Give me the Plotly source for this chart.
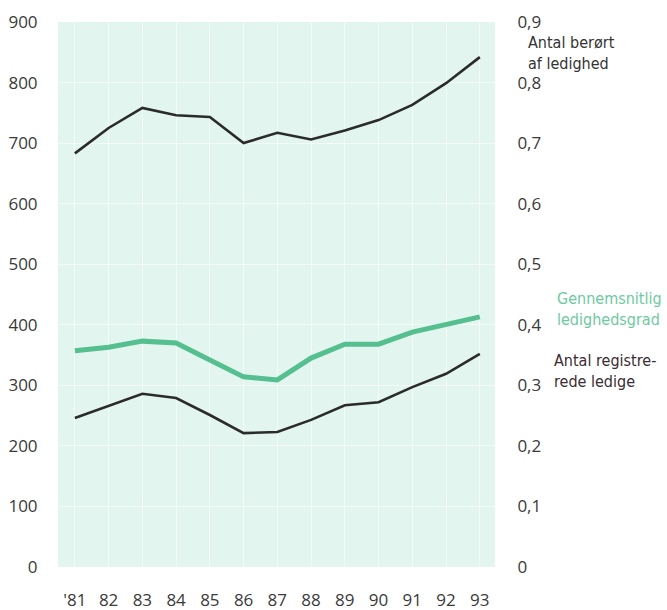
import plotly.graph_objects as go

years = ["'81", "82", "83", "84", "85", "86", "87", "88", "89", "90", "91", "92", "93"]
beroert = [683, 725, 758, 746, 743, 700, 717, 706, 721, 738, 763, 799, 842]
registrerede = [246, 266, 286, 279, 251, 221, 223, 243, 267, 272, 297, 319, 352]
ledighedsgrad = [0.357, 0.363, 0.373, 0.370, 0.342, 0.314, 0.309, 0.345, 0.368, 0.368, 0.388, 0.400, 0.413]

left_ticks = list(range(0, 901, 100))
right_ticks = [i / 10 for i in range(10)]

GREEN = "#55bf90"
GREEN_TXT = "#6ccaa0"
DARK = "#2b2b2b"
TICKFONT = dict(family="Open Sans, Roboto, sans-serif", size=17, color="#3a3a3a")
ANNFONT = "DejaVu Sans Condensed, Liberation Sans Narrow, Roboto, sans-serif"

x = list(range(len(years)))

fig = go.Figure()
fig.add_trace(go.Scatter(x=x, y=beroert, mode="lines", line=dict(color=DARK, width=2.6), yaxis="y"))
fig.add_trace(go.Scatter(x=x, y=registrerede, mode="lines", line=dict(color=DARK, width=2.6), yaxis="y"))
fig.add_trace(go.Scatter(x=x, y=ledighedsgrad, mode="lines", line=dict(color=GREEN, width=5), yaxis="y2"))

fig.update_layout(
    width=667, height=610,
    margin=dict(l=58, r=172, t=22, b=43),
    paper_bgcolor="white",
    plot_bgcolor="#e2f6ef",
    showlegend=False,
    xaxis=dict(
        range=[-0.5, 12.45], tickmode="array", tickvals=x, ticktext=years,
        showgrid=True, gridcolor="rgba(255,255,255,0.55)", gridwidth=1,
        zeroline=False, showline=False, automargin=False,
        ticks="outside", ticklen=18, tickcolor="rgba(0,0,0,0)",
        tickfont=TICKFONT,
    ),
    yaxis=dict(
        range=[0, 900], tickmode="array", tickvals=left_ticks,
        showgrid=True, gridcolor="rgba(255,255,255,0.55)", gridwidth=1,
        zeroline=False, showline=False, automargin=False,
        ticks="outside", ticklen=16, tickcolor="rgba(0,0,0,0)",
        tickfont=TICKFONT,
    ),
    yaxis2=dict(
        range=[0, 0.9], overlaying="y", side="right", tickmode="array",
        tickvals=right_ticks,
        ticktext=["0" if v == 0 else f"{v:.1f}".replace(".", ",") for v in right_ticks],
        showgrid=False, zeroline=False, showline=False, automargin=False,
        ticks="outside", ticklen=18, tickcolor="rgba(0,0,0,0)",
        tickfont=TICKFONT,
    ),
)

def ann(text, px, py, color):
    fig.add_annotation(
        text=text, xref="paper", yref="paper", x=px, y=py,
        xanchor="left", yanchor="top", showarrow=False, align="left",
        font=dict(family=ANNFONT, size=16, color=color),
    )

ann("Antal berørt<br>af ledighed", (526 - 58) / 437, (567 - 31) / 545, "#333333")
ann("Gennemsnitlig<br>ledighedsgrad", (555 - 58) / 437, (567 - 287) / 545, GREEN_TXT)
ann("Antal registre-<br>rede ledige", (552 - 58) / 437, (567 - 349) / 545, "#3a2c32")

fig.write_html(
    "out.html",
    config={"displayModeBar": False},
    post_script="document.body.style.margin='0';document.body.style.overflow='hidden';",
)
